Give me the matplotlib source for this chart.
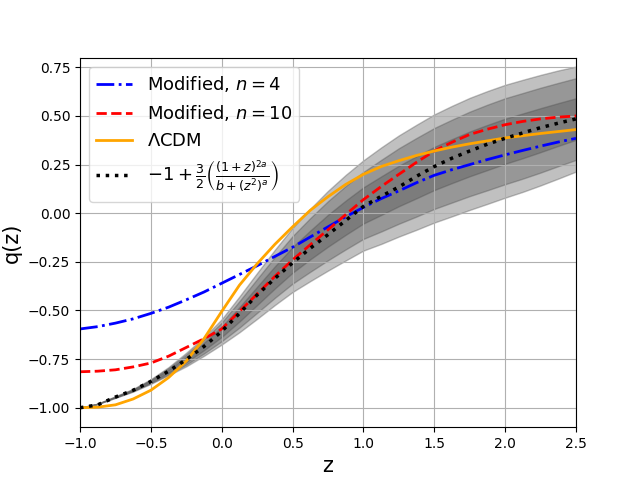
import numpy as np
import matplotlib
matplotlib.use('Agg')
import matplotlib.pyplot as plt

# values
z = [-1.0, -0.875, -0.75, -0.625, -0.5, -0.375, -0.25, -0.125, 0.0, 0.125, 0.25, 0.375, 0.5, 0.625,
     0.75, 0.875, 1.0, 1.125, 1.25, 1.375, 1.5, 1.625, 1.75, 1.875, 2.0, 2.125, 2.25, 2.375, 2.5]

q_n4 = [-0.595, -0.583, -0.565, -0.543, -0.515, -0.483, -0.445, -0.405, -0.36, -0.315, -0.27, -0.222,
        -0.175, -0.122, -0.07, -0.018, 0.03, 0.075, 0.115, 0.157, 0.195, 0.224, 0.25, 0.276, 0.30,
        0.323, 0.345, 0.366, 0.385]
q_n10 = [-0.815, -0.812, -0.805, -0.79, -0.77, -0.735, -0.69, -0.645, -0.595, -0.505, -0.415, -0.325,
         -0.24, -0.162, -0.085, -0.007, 0.07, 0.137, 0.2, 0.262, 0.32, 0.365, 0.405, 0.432, 0.455,
         0.472, 0.485, 0.494, 0.50]
q_fit = [-1.0, -0.985, -0.945, -0.91, -0.865, -0.812, -0.752, -0.685, -0.607, -0.515, -0.42, -0.335,
         -0.255, -0.18, -0.11, -0.037, 0.035, 0.087, 0.135, 0.19, 0.24, 0.283, 0.32, 0.355, 0.385,
         0.413, 0.44, 0.463, 0.485]

z_lcdm = [-1.0, -0.875, -0.75, -0.625, -0.5, -0.375, -0.25, -0.125, 0.0, 0.125, 0.25, 0.375,
          0.5, 0.625, 0.75, 0.875, 1.0, 1.125, 1.25, 1.375, 1.5, 1.625, 1.75, 2.0, 2.25, 2.5]
q_lcdm = [-1.0, -0.997, -0.985, -0.955, -0.91, -0.845, -0.76, -0.645, -0.505, -0.37, -0.26, -0.16,
          -0.07, 0.015, 0.085, 0.148, 0.2, 0.24, 0.27, 0.297, 0.32, 0.34, 0.357, 0.387, 0.41, 0.43]

# confidence band: centre and half widths of the three layers
band_mid = [-1.0, -0.98, -0.945, -0.91, -0.865, -0.812, -0.752, -0.685, -0.61, -0.52, -0.425, -0.33,
            -0.24, -0.163, -0.09, -0.023, 0.04, 0.09, 0.14, 0.185, 0.23, 0.268, 0.305, 0.338, 0.37,
            0.398, 0.427, 0.456, 0.484]
hw_3 = [0.0, 0.001, 0.004, 0.007, 0.012, 0.021, 0.035, 0.048, 0.065, 0.092, 0.118, 0.142, 0.165,
        0.186, 0.205, 0.22, 0.232, 0.248, 0.26, 0.27, 0.278, 0.284, 0.288, 0.29, 0.29, 0.288,
        0.284, 0.278, 0.27]
hw_2 = [0.0, 0.0007, 0.003, 0.005, 0.009, 0.016, 0.026, 0.036, 0.048, 0.068, 0.087, 0.105, 0.122,
        0.138, 0.152, 0.163, 0.172, 0.184, 0.194, 0.202, 0.208, 0.213, 0.217, 0.22, 0.221, 0.22,
        0.218, 0.214, 0.21]
hw_1 = [0.0, 0.0004, 0.0016, 0.003, 0.005, 0.008, 0.014, 0.019, 0.026, 0.037, 0.047, 0.057, 0.066,
        0.074, 0.082, 0.088, 0.093, 0.099, 0.104, 0.108, 0.111, 0.113, 0.115, 0.116, 0.116, 0.115,
        0.113, 0.11, 0.107]

zz = np.array(z)
mid = np.array(band_mid)

fig, ax = plt.subplots(figsize=(6.4, 4.8), dpi=100)

for hw in (hw_3, hw_2, hw_1):
    hw = np.array(hw)
    ax.fill_between(zz, mid - hw, mid + hw, color='#4b4b4b', alpha=0.35)

ax.plot(z, q_n4, 'b-.', lw=2, label=r'Modified, $n=4$')
ax.plot(z, q_n10, 'r--', lw=2, label=r'Modified, $n=10$')
ax.plot(z_lcdm, q_lcdm, color='orange', lw=2, label=r'$\Lambda$CDM')
ax.plot(z, q_fit, 'k:', lw=2.5,
        label=r'$-1+\frac{3}{2}\left(\frac{(1+z)^{2a}}{b+(z^2)^a}\right)$')

ax.set_xlim(-1, 2.5)
ax.set_ylim(-1.1, 0.8)
ax.set_xlabel('z', fontsize=15)
ax.set_ylabel('q(z)', fontsize=15)
ax.grid(True)
ax.legend(loc='upper left', fontsize=13)

plt.savefig('out.png')
